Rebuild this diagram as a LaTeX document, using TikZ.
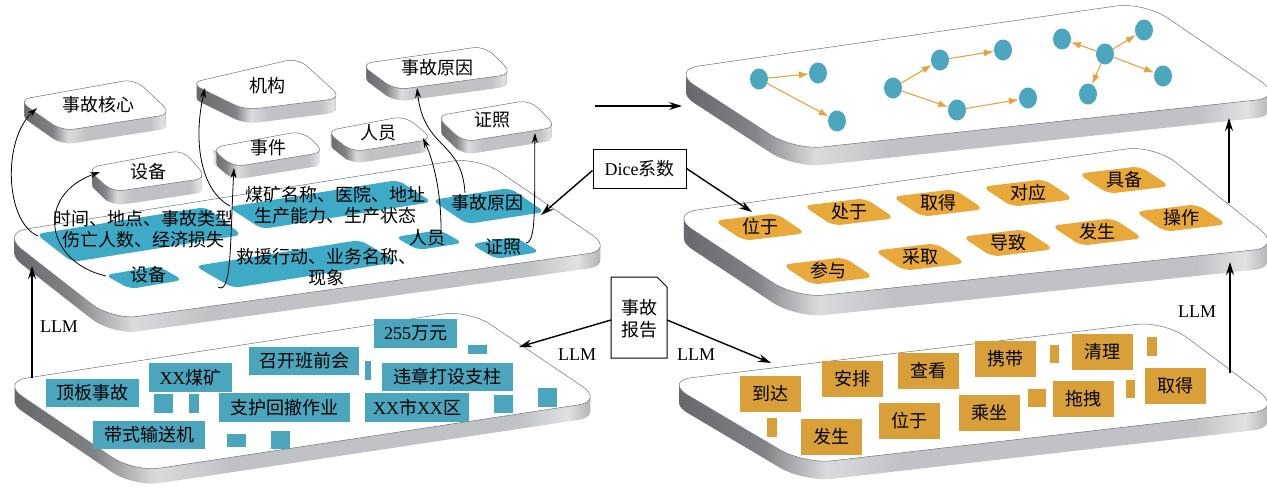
\documentclass[tikz,border=0pt]{standalone}
\usepackage{fontspec}
\setmainfont{Liberation Serif}
\newfontfamily\cjk{Noto Sans CJK SC}
\usetikzlibrary{arrows.meta,calc,shapes.geometric}

\definecolor{tealB}{RGB}{74,165,189}
\definecolor{blueA}{RGB}{62,170,198}
\definecolor{gnodeC}{RGB}{75,166,190}
\definecolor{orangeD}{RGB}{232,168,58}
\definecolor{orangeE}{RGB}{217,160,58}
\definecolor{edgeO}{RGB}{229,165,58}
\definecolor{outl}{RGB}{105,115,120}
\definecolor{sdA}{RGB}{98,99,102}
\definecolor{sdB}{RGB}{130,131,134}
\definecolor{sdC}{RGB}{218,219,221}
\definecolor{sdD}{RGB}{193,194,197}
\definecolor{sdE}{RGB}{225,226,228}
\definecolor{sdF}{RGB}{150,151,154}

\newcommand\declside[2]{%
  \pgfmathsetmacro\bpa{#2-3}%
  \pgfmathsetmacro\bpb{#2+2}%
  \pgfmathsetmacro\bpc{#2+8}%
  \edef\plTmp{\noexpand\pgfdeclarehorizontalshading{side#1}{100bp}{color(0bp)=(sdA); color(25bp)=(sdA); color(\bpa bp)=(sdB); color(\bpb bp)=(sdC); color(\bpc bp)=(sdD); color(68bp)=(sdD); color(72bp)=(sdE); color(75bp)=(sdF); color(100bp)=(sdF)}}%
  \plTmp}
\declside{sjhx}{39.3}
\declside{jg}{43}
\declside{sgyy}{36.4}
\declside{sb}{35.4}
\declside{sj}{34.6}
\declside{ry}{37.1}
\declside{zz}{36.2}
\declside{A}{33.8}
\declside{B}{35.8}
\declside{C}{34.8}
\declside{D}{35.2}
\declside{E}{36.1}

% #1 name, #2 L, #3 T, #4 R, #5 B, #6 thickness, #7 radius
\newcommand\plate[7]{%
  \foreach \d in {1,...,#6}{%
    \shade[shading=side#1, yshift=-\d pt, rounded corners=#7pt]
      ($(#2)!0.5!(#5)$) -- (#2) -- (#3) -- (#4) -- (#5) -- cycle;}
  \filldraw[fill=white, draw=outl, line width=0.5pt, rounded corners=#7pt]
      ($(#2)!0.5!(#5)$) -- (#2) -- (#3) -- (#4) -- (#5) -- cycle;}

% parallelogram shape: #1 L, #2 T, #3 R, #4 B, #5 style
\newcommand\para[5]{%
  \fill[#5] ($(#1)!0.5!(#4)$) -- (#1) -- (#2) -- (#3) -- (#4) -- cycle;}

% relation shape on plate D: #1 name, #2 cx, #3 cy, #4 text
\newcommand\relshape[4]{%
  \fill[oshape] (#2-31,#3+3.75) -- (#2-46,#3-6.25) -- (#2+16,#3-13.75) -- (#2+46,#3+6.25) -- (#2-16,#3+13.75) -- cycle;
  \node[lab] (#1) at (#2,#3) {#4};}

\tikzset{
  lab/.style={font=\fontsize{18}{21.5}\cjk, inner sep=0pt, align=center},
  latlab/.style={font=\fontsize{18}{21}\rmfamily, inner sep=0pt},
  tbox/.style={lab, fill=tealB, minimum height=28pt},
  obox/.style={lab, fill=orangeE, minimum width=61pt, minimum height=36pt},
  gnode/.style={ellipse, fill=gnodeC, minimum width=18pt, minimum height=21pt, inner sep=0pt},
  garr/.style={draw=edgeO, line width=1.1pt, -{Latex[length=10pt,width=7pt]}},
  thinarr/.style={line width=0.8pt, -{Stealth[length=10pt,width=6pt]}},
  bigarr/.style={line width=1.4pt, -{Stealth[length=13pt,width=8pt]}},
  blueshape/.style={fill=blueA, rounded corners=7pt},
  oshape/.style={fill=orangeD, rounded corners=8pt},
}

\begin{document}
\begin{tikzpicture}[x=1pt,y=-1pt]
\useasboundingbox (0,0) rectangle (1267,488);

% ---------- floating category plates ----------
\plate{sgyy}{360,64}{485,46}{513,74}{395,90}{12}{12}
\plate{jg}{190,83}{298,58}{342,98}{245,110}{14}{12}
\plate{sjhx}{18,100}{135,79}{172,114}{62,131}{14}{12}
\plate{zz}{436,116}{530,100}{557,127}{463,142}{13}{11}
\plate{ry}{326,131}{405,116}{433,139}{352,152}{12}{11}
\plate{sj}{211,148}{302,131}{325,152}{233,167}{13}{11}
\plate{sb}{87,168}{183,150}{207,178}{112,192}{14}{11}
\node[lab] (c1) at (98,105) {事故核心};
\node[lab] (c2) at (267,86) {机构};
\node[lab] (c3) at (437,68) {事故原因};
\node[lab] (c4) at (148,172) {设备};
\node[lab] (c5) at (268,148) {事件};
\node[lab] (c6) at (378,133) {人员};
\node[lab] (c7) at (492,120) {证照};

% ---------- plate A (entities) ----------
\plate{A}{1,233}{478,157}{614,250}{112,320}{15}{26}
\para{36,234}{206,207}{242,235}{72,262}{blueshape}
\para{228,207}{398,180}{432,202}{262,229}{blueshape}
\para{432,200}{510,188}{545,212}{467,224}{blueshape}
\para{395,237}{440,230}{463,243}{418,250}{blueshape}
\para{471,244}{515,237}{540,252}{496,259}{blueshape}
\para{105,275}{158,266}{183,280}{130,289}{blueshape}
\para{195,266}{360,240}{398,262}{233,288}{blueshape}
\node[lab] (tA1) at (143,229) {时间、地点、事故类型\\伤亡人数、经济损失};
\node[lab] (tA2) at (335,205) {煤矿名称、医院、地址\\生产能力、生产状态};
\node[lab] (tA3) at (487,203) {事故原因};
\node[lab] (tA4) at (427,238) {人员};
\node[lab] (tA5) at (503,247) {证照};
\node[lab] (tA6) at (148,275) {设备};
\node[lab] (tA7) at (326,267) {救援行动、业务名称、\\现象};

% ---------- plate B (report words) ----------
\plate{B}{1,382}{469,310}{604,401}{134,472}{15}{26}
\node[tbox, minimum width=93pt] (k1) at (92.5,393) {顶板事故};
\node[tbox, minimum width=83pt, minimum height=29pt] (k2) at (190.5,377.5) {{\rmfamily XX}煤矿};
\node[tbox, minimum width=110pt] (k3) at (304,361) {召开班前会};
\node[tbox, minimum width=83pt, minimum height=29pt] (k4) at (415.5,333.5) {{\rmfamily 255}万元};
\node[tbox, minimum width=131pt] (k5) at (447.5,377) {违章打设支柱};
\node[tbox, minimum width=131pt, minimum height=29pt] (k6) at (284.5,407.5) {支护回撤作业};
\node[tbox, minimum width=104pt, minimum height=29pt] (k7) at (417,407.5) {{\rmfamily XX}市{\rmfamily XX}区};
\node[tbox, minimum width=112pt] (k8) at (149,435) {带式输送机};
\fill[tealB] (154,394) rectangle (173,413);
\fill[tealB] (189,394) rectangle (199,413);
\fill[tealB] (468,345) rectangle (487,354);
\fill[tealB] (365,361) rectangle (371,380);
\fill[tealB] (494,395) rectangle (513,413);
\fill[tealB] (538,388) rectangle (557,407);
\fill[tealB] (227,434) rectangle (246,447);
\fill[tealB] (271,431) rectangle (290,449);

% ---------- plate C (graph) ----------
\plate{C}{671,70}{1144,2}{1284,97}{794,150}{18}{28}
\node[gnode] (n1) at (759,79) {};
\node[gnode] (n2) at (818,73) {};
\node[gnode] (n3) at (837,121) {};
\node[gnode] (n4) at (893,88) {};
\node[gnode] (n5) at (940,60) {};
\node[gnode] (n6) at (1003,50) {};
\node[gnode] (n7) at (957,110) {};
\node[gnode] (n8) at (1028,98) {};
\node[gnode] (n9) at (1062,39) {};
\node[gnode] (n10) at (1105,54) {};
\node[gnode] (n11) at (1144,30) {};
\node[gnode] (n12) at (1088,94) {};
\node[gnode] (n13) at (1163,76) {};
\draw[garr] (n1) -- (n2);
\draw[garr] (n1) -- (n3);
\draw[garr] (n4) -- (n5);
\draw[garr] (n5) -- (n6);
\draw[garr] (n4) -- (n7);
\draw[garr] (n7) -- (n8);
\draw[garr] (n10) -- (n9);
\draw[garr] (n10) -- (n11);
\draw[garr] (n10) -- (n12);
\draw[garr] (n10) -- (n13);

% ---------- plate D (relations) ----------
\plate{D}{669,214}{1154,145}{1282,247}{796,298}{20}{28}
\relshape{r1}{760}{227}{位于}
\relshape{r2}{849}{212}{处于}
\relshape{r3}{938}{203}{取得}
\relshape{r4}{1028}{193}{对应}
\relshape{r5}{1124}{180}{具备}
\relshape{r6}{1181}{218}{操作}
\relshape{r7}{1097}{232}{发生}
\relshape{r8}{1008}{243}{导致}
\relshape{r9}{920}{257}{采取}
\relshape{r10}{828}{271}{参与}

% ---------- plate E (report relations) ----------
\plate{E}{664,381}{1165,321}{1282,409}{804,464}{18}{28}
\node[obox] (e1) at (770.5,393.5) {到达};
\node[obox] (e2) at (852,379) {安排};
\node[obox] (e3) at (928.5,370.5) {查看};
\node[obox] (e4) at (1005.5,358.5) {携带};
\node[obox] (e5) at (1102.5,351.5) {清理};
\node[obox] (e6) at (1175.5,385.5) {取得};
\node[obox] (e7) at (1083.5,398.5) {拖拽};
\node[obox] (e8) at (989.5,413) {乘坐};
\node[obox] (e9) at (909.5,421) {位于};
\node[obox] (e10) at (831.5,436.5) {发生};
\fill[orangeE] (1050,345) rectangle (1059,363);
\fill[orangeE] (1147,337) rectangle (1157,356);
\fill[orangeE] (1126,380) rectangle (1135,398);
\fill[orangeE] (1028,389) rectangle (1046,407);
\fill[orangeE] (767,418) rectangle (777,437);

% ---------- middle elements ----------
\node[draw, line width=1pt, minimum width=93pt, minimum height=39pt, inner sep=0pt, font=\fontsize{18}{21}\selectfont] (dice) at (639.5,168.5) {Dice{\cjk 系数}};
\draw[line width=1pt] (611,277) -- (657,277) -- (667,287) -- (667,358) -- (611,358) -- cycle;
\node[lab] (doc) at (639,318.5) {事故\\报告};
\coordinate (docW) at (611,320);
\coordinate (docE) at (667,320);
\coordinate (toB) at (519,347);
\coordinate (toE) at (771,363);
\coordinate (diceLt) at (541,215);
\coordinate (diceRt) at (752,212);
\coordinate (topS) at (595,106);
\coordinate (topE) at (682,106);
\draw[bigarr] (docW) -- (toB);
\draw[bigarr] (docE) -- (toE);
\draw[bigarr] ($(dice.west)+(0,2)$) -- (diceLt);
\draw[bigarr] (dice.east) -- (diceRt);
\draw[bigarr] (topS) -- (topE);
\node[latlab] (llm1) at (577,355) {LLM};
\node[latlab] (llm2) at (696,355) {LLM};

% vertical LLM arrows
\coordinate (vL1) at (32,378);
\coordinate (vL2) at (32,266);
\coordinate (vR1) at (1230,373);
\coordinate (vR2) at (1230,262);
\coordinate (vR3) at (1229,203);
\coordinate (vR4) at (1229,118);
\draw[bigarr] (vL1) -- (vL2);
\draw[bigarr] (vR1) -- (vR2);
\draw[bigarr] (vR3) -- (vR4);
\node[latlab] (llm3) at (59,327) {LLM};
\node[latlab] (llm4) at (1197,312) {LLM};

% ---------- entity-to-category arrows ----------
\coordinate (s1) at (38,236);  \coordinate (g1) at (37,108);
\coordinate (s2) at (106,276); \coordinate (g2) at (100,172);
\coordinate (s3) at (230,206); \coordinate (g3) at (205,88);
\coordinate (s4) at (218,287); \coordinate (g4) at (234,168);
\coordinate (s5) at (441,229); \coordinate (g5) at (423,138);
\coordinate (s6) at (465,193); \coordinate (g6) at (417,88);
\coordinate (s7) at (526,243); \coordinate (g7) at (535,133);
\draw[thinarr] (s1) .. controls (5,222) and (2,140) .. (g1);
\draw[thinarr] (s2) .. controls (45,262) and (35,195) .. (g2);
\draw[thinarr] (s3) .. controls (200,190) and (193,140) .. (g3);
\draw[thinarr] (s4) .. controls (232,296) and (230,240) .. (g4);
\draw[thinarr] (s5) .. controls (441,190) and (433,160) .. (g5);
\draw[thinarr] (s6) .. controls (462,140) and (424,150) .. (g6);
\draw[thinarr] (s7) .. controls (537,242) and (534,200) .. (g7);
\end{tikzpicture}
\end{document}
